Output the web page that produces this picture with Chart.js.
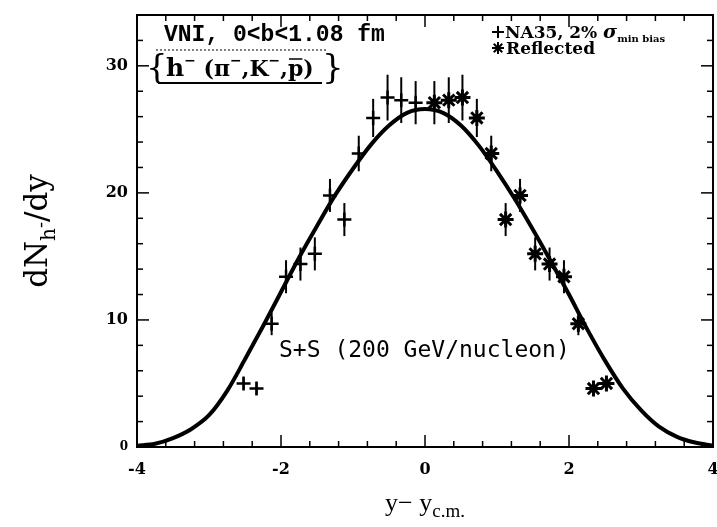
<!DOCTYPE html>
<html>
<head>
<meta charset="utf-8">
<script src="https://cdn.jsdelivr.net/npm/chart.js@4.4.1/dist/chart.umd.min.js"></script>
<style>
  html, body { margin: 0; padding: 0; background: #fff; }
</style>
</head>
<body>
<canvas id="dndy" width="717" height="527"></canvas>
<script>
// VNI curve
const curveX = [-4, -3.75, -3.5, -3.25, -3, -2.75, -2.5, -2.25, -2, -1.75, -1.5, -1.25, -1, -0.75, -0.5, -0.25,
                0, 0.25, 0.5, 0.75, 1, 1.25, 1.5, 1.75, 2, 2.25, 2.5, 2.75, 3, 3.25, 3.5, 3.75, 4];
const curveY = [0.1, 0.25, 0.7, 1.4, 2.5, 4.4, 6.9, 9.5, 12.2, 14.9, 17.4, 19.8, 21.9, 23.8, 25.3, 26.3,
                26.6, 26.3, 25.3, 23.7, 21.7, 19.5, 17.1, 14.6, 12.0, 9.3, 6.8, 4.6, 2.9, 1.6, 0.8, 0.35, 0.1];

// NA35 data points (crosses)
const na35X = [-2.52, -2.34, -2.13, -1.93, -1.73, -1.53, -1.32, -1.12, -0.92, -0.72, -0.52, -0.33, -0.13];
const na35Y = [5.0, 4.6, 9.7, 13.4, 14.4, 15.2, 19.8, 17.9, 23.1, 25.9, 27.5, 27.3, 27.1];
const na35Err = [0.5, 0.5, 0.9, 1.3, 1.3, 1.3, 1.3, 1.3, 1.4, 1.5, 1.8, 1.8, 1.7];

// reflected points (stars)
const reflX = [0.13, 0.33, 0.52, 0.72, 0.92, 1.12, 1.32, 1.53, 1.73, 1.93, 2.13, 2.34, 2.52];
const reflY = [27.1, 27.3, 27.5, 25.9, 23.1, 17.9, 19.8, 15.2, 14.4, 13.4, 9.7, 4.6, 5.0];
const reflErr = [1.7, 1.8, 1.8, 1.5, 1.4, 1.3, 1.3, 1.3, 1.3, 1.3, 0.9, 0.5, 0.5];

// tick labels
const xTickValues = [-4, -2, 0, 2, 4];
const xTickLabels = ['-4', '-2', '0', '2', '4'];
const yTickValues = [0, 10, 20, 30];
const yTickLabels = ['0', '10', '20', '30'];

const serif = '"DejaVu Serif", "Liberation Serif", serif';

function labelFor(v, values, labels) {
    const i = values.findIndex(t => Math.abs(t - v) < 1e-6);
    return i >= 0 ? labels[i] : '';
}

// draw a run of text pieces, each with its own font and vertical shift
function drawRich(ctx, parts, x, y) {
    let cx = x;
    parts.forEach(p => {
        ctx.font = p.font;
        ctx.fillText(p.t, cx, y + (p.dy || 0));
        const w = ctx.measureText(p.t).width;
        if (p.bar) {
            ctx.lineWidth = 1.5;
            ctx.beginPath();
            ctx.moveTo(cx + 1, y - 17);
            ctx.lineTo(cx + w - 1, y - 17);
            ctx.stroke();
        }
        cx += w;
    });
    return cx - x;
}

function richWidth(ctx, parts) {
    let w = 0;
    parts.forEach(p => { ctx.font = p.font; w += ctx.measureText(p.t).width; });
    return w;
}

// error bars
const errorBars = {
    id: 'errorBars',
    afterDatasetsDraw(chart) {
        const {ctx, scales: {x, y}} = chart;
        ctx.save();
        ctx.strokeStyle = '#000';
        ctx.lineWidth = 2;
        const bars = (xs, ys, es) => {
            xs.forEach((v, i) => {
                const px = x.getPixelForValue(v);
                ctx.beginPath();
                ctx.moveTo(px, y.getPixelForValue(ys[i] - es[i]));
                ctx.lineTo(px, y.getPixelForValue(ys[i] + es[i]));
                ctx.stroke();
            });
        };
        bars(na35X, na35Y, na35Err);
        bars(reflX, reflY, reflErr);
        ctx.restore();
    }
};

// frame, inward ticks, titles and annotations
const decor = {
    id: 'decor',
    afterDraw(chart) {
        const {ctx, chartArea: a, scales: {x, y}} = chart;
        ctx.save();
        ctx.strokeStyle = '#000';
        ctx.fillStyle = '#000';
        ctx.lineWidth = 2;
        ctx.strokeRect(a.left, a.top, a.right - a.left, a.bottom - a.top);

        const seg = (x1, y1, x2, y2) => {
            ctx.beginPath(); ctx.moveTo(x1, y1); ctx.lineTo(x2, y2); ctx.stroke();
        };
        ctx.lineWidth = 1.5;
        x.ticks.forEach(t => {
            const px = x.getPixelForValue(t.value);
            const len = labelFor(t.value, xTickValues, xTickLabels) ? 12 : 6;
            seg(px, a.bottom, px, a.bottom - len);
            seg(px, a.top, px, a.top + len);
        });
        y.ticks.forEach(t => {
            const py = y.getPixelForValue(t.value);
            const len = labelFor(t.value, yTickValues, yTickLabels) ? 12 : 6;
            seg(a.left, py, a.left + len, py);
            seg(a.right, py, a.right - len, py);
        });

        // y title: dN_{h-}/dy
        const yParts = [
            {t: 'dN', font: '31px ' + serif},
            {t: 'h', font: '20px ' + serif, dy: 8},
            {t: '-', font: '18px ' + serif, dy: 0},
            {t: '/dy', font: '31px ' + serif}
        ];
        ctx.save();
        ctx.translate(47, (a.top + a.bottom) / 2);
        ctx.rotate(-Math.PI / 2);
        ctx.textBaseline = 'alphabetic';
        drawRich(ctx, yParts, -richWidth(ctx, yParts) / 2, 0);
        ctx.restore();

        // x title: y - y_c.m.
        const xParts = [
            {t: 'y\u2212 y', font: '26px "Liberation Serif", serif'},
            {t: 'c.m.', font: '19px "Liberation Serif", serif', dy: 6}
        ];
        ctx.textBaseline = 'alphabetic';
        drawRich(ctx, xParts, (a.left + a.right) / 2 - richWidth(ctx, xParts) / 2, 511);

        // model label
        ctx.font = 'bold 23px "Liberation Mono", monospace';
        ctx.fillText('VNI, 0<b<1.08 fm', 164, 41);

        // particle box
        const boxParts = [
            {t: 'h', font: 'bold 25px ' + serif},
            {t: '\u2212', font: 'bold 14px ' + serif, dy: -11},
            {t: ' (\u03c0', font: 'bold 22px ' + serif},
            {t: '\u2212', font: 'bold 14px ' + serif, dy: -11},
            {t: ',K', font: 'bold 22px ' + serif},
            {t: '\u2212', font: 'bold 14px ' + serif, dy: -11},
            {t: ',', font: 'bold 22px ' + serif},
            {t: 'p', font: 'bold 22px ' + serif, bar: true},
            {t: ')', font: 'bold 22px ' + serif}
        ];
        drawRich(ctx, boxParts, 166, 76);
        ctx.lineWidth = 1;
        ctx.setLineDash([2, 2]);
        seg(156, 50, 326, 50);
        ctx.setLineDash([]);
        ctx.lineWidth = 2;
        seg(158, 83, 322, 83);
        ctx.font = '34px ' + serif;
        ctx.fillText('{', 146, 78);
        ctx.fillText('}', 322, 78);

        // legend
        Chart.helpers.drawPoint(ctx, {pointStyle: 'cross', radius: 6, borderWidth: 2.5}, 498, 32);
        const legParts = [
            {t: 'NA35, 2% ', font: 'bold 17px ' + serif},
            {t: '\u03c3', font: 'bold italic 19px ' + serif},
            {t: 'min bias', font: 'bold 10px ' + serif, dy: 4}
        ];
        drawRich(ctx, legParts, 505, 38);
        Chart.helpers.drawPoint(ctx, {pointStyle: 'star', radius: 6, borderWidth: 2}, 498, 48);
        ctx.font = 'bold 17px ' + serif;
        ctx.fillText('Reflected', 506, 54);

        // system label
        ctx.font = '23px "DejaVu Sans Mono", monospace';
        ctx.fillText('S+S (200 GeV/nucleon)', 279, 357);
        ctx.restore();
    }
};

new Chart(document.getElementById('dndy'), {
    type: 'scatter',
    data: {
        datasets: [
            {
                type: 'line',
                data: curveX.map((v, i) => ({x: v, y: curveY[i]})),
                borderColor: '#000',
                borderWidth: 4,
                pointRadius: 0,
                cubicInterpolationMode: 'monotone',
                fill: false
            },
            {
                data: na35X.map((v, i) => ({x: v, y: na35Y[i]})),
                pointStyle: 'cross',
                pointRadius: 7,
                borderColor: '#000',
                borderWidth: 2.5
            },
            {
                data: reflX.map((v, i) => ({x: v, y: reflY[i]})),
                pointStyle: 'star',
                pointRadius: 8,
                borderColor: '#000',
                borderWidth: 3
            }
        ]
    },
    options: {
        responsive: false,
        animation: false,
        devicePixelRatio: 1,
        layout: {autoPadding: false, padding: {left: 0, right: 4, top: 15, bottom: 0}},
        plugins: {
            legend: {display: false},
            tooltip: {enabled: false}
        },
        scales: {
            x: {
                type: 'linear',
                min: -4,
                max: 4,
                afterFit: s => { s.height = 80; s.paddingLeft = 0; s.paddingRight = 0; },
                grid: {display: false, drawTicks: false},
                border: {display: false},
                ticks: {
                    stepSize: 0.4,
                    autoSkip: false,
                    maxRotation: 0,
                    padding: 13,
                    color: '#000',
                    font: {family: serif, size: 16, weight: 'bold'},
                    callback: v => labelFor(v, xTickValues, xTickLabels)
                }
            },
            y: {
                min: 0,
                max: 34,
                afterFit: s => { s.width = 137; s.paddingTop = 0; s.paddingBottom = 0; },
                grid: {display: false, drawTicks: false},
                border: {display: false},
                ticks: {
                    stepSize: 2,
                    autoSkip: false,
                    padding: 9,
                    color: '#000',
                    font: ctx => ({family: serif, size: ctx.tick && ctx.tick.value === 0 ? 12 : 16, weight: 'bold'}),
                    callback: v => labelFor(v, yTickValues, yTickLabels)
                }
            }
        }
    },
    plugins: [errorBars, decor]
});
</script>
</body>
</html>
